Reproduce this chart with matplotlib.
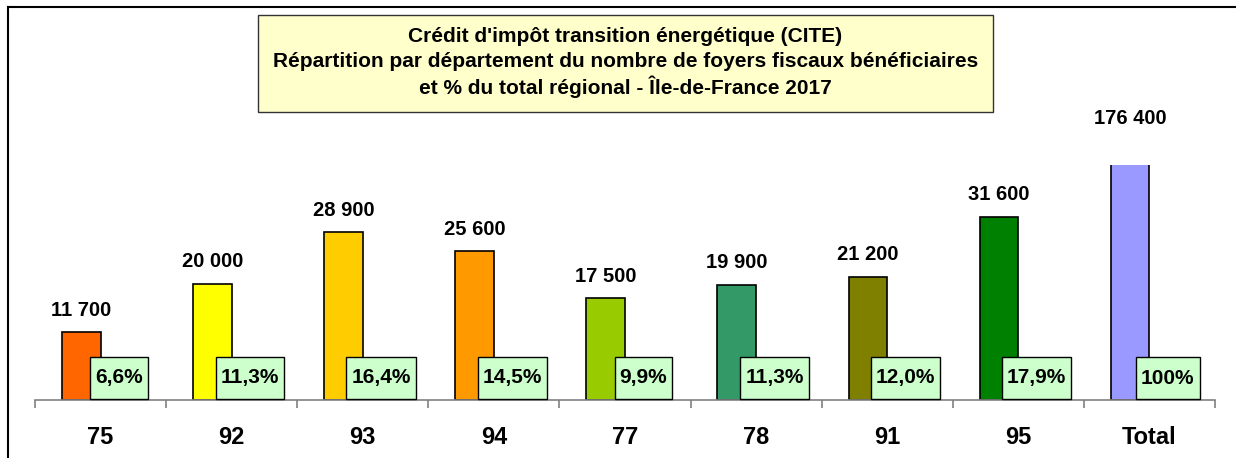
import matplotlib
matplotlib.use("Agg")
import matplotlib.pyplot as plt
from matplotlib.patches import Rectangle
from matplotlib.lines import Line2D

plt.rcParams['font.family'] = ['Liberation Sans', 'DejaVu Sans']

categories = ["75", "92", "93", "94", "77", "78", "91", "95", "Total"]
values = [11700, 20000, 28900, 25600, 17500, 19900, 21200, 31600, 176400]
value_labels = ["11 700", "20 000", "28 900", "25 600", "17 500", "19 900", "21 200", "31 600", "176 400"]
pct_labels = ["6,6%", "11,3%", "16,4%", "14,5%", "9,9%", "11,3%", "12,0%", "17,9%", "100%"]
colors = ["#FF6600", "#FFFF00", "#FFCC00", "#FF9900", "#99CC00", "#339966", "#808000", "#008000", "#9999FF"]
title_lines = ["Crédit d'impôt transition énergétique (CITE)",
               "Répartition par département du nombre de foyers fiscaux bénéficiaires",
               "et % du total régional - Île-de-France 2017"]

W, H = 1236, 458
fig = plt.figure(figsize=(W / 100, H / 100), dpi=100)
fig.patch.set_facecolor("white")

ax_left, ax_right, ax_top, ax_bottom = 35, 1215, 165, 400
ax = fig.add_axes([ax_left / W, 1 - ax_bottom / H, (ax_right - ax_left) / W, (ax_bottom - ax_top) / H])
ax.set_facecolor("none")
ymax = 40500
ax.set_xlim(-0.5, len(categories) - 0.5)
ax.set_ylim(0, ymax)

bar_w = 0.295
xs = list(range(len(categories)))
ax.bar([x - bar_w for x in xs], values, width=bar_w, align="edge", color=colors,
       edgecolor="black", linewidth=1.2, zorder=2)

for s in ["left", "right", "top"]:
    ax.spines[s].set_visible(False)
ax.spines["bottom"].set_color("#808080")
ax.spines["bottom"].set_linewidth(1.2)
ax.set_yticks([])
ax.set_xticks([x - 0.5 for x in xs] + [len(categories) - 0.5])
ax.set_xticklabels([])
ax.tick_params(axis="x", direction="out", length=6, width=1.2, color="#808080")

# value labels
for x, v, lab in zip(xs, values, value_labels):
    cx = x - bar_w / 2
    if v <= ymax:
        ax.annotate(lab, xy=(cx, v), xytext=(0, 22), textcoords="offset pixels",
                    ha="center", va="center", fontsize=14.5, fontweight="bold", annotation_clip=False)
    else:
        ax.annotate(lab, xy=(cx, ymax), xytext=(0, 47), textcoords="offset pixels",
                    ha="center", va="center", fontsize=14.5, fontweight="bold", annotation_clip=False)

# category labels
for x, c in zip(xs, categories):
    ax.annotate(c, xy=(x, 0), xytext=(0, -38), textcoords="offset pixels",
                ha="center", va="center", fontsize=17, fontweight="bold", annotation_clip=False)

# percentage labels
pct_texts = []
for x, p in zip(xs, pct_labels):
    t = ax.annotate(p, xy=(x + 0.14, 0), xytext=(0, 22), textcoords="offset pixels",
                    ha="center", va="center", fontsize=15, fontweight="bold",
                    annotation_clip=False, zorder=5)
    pct_texts.append(t)

fig.canvas.draw()
r = fig.canvas.get_renderer()
inv = ax.transAxes.inverted()
base = ax.transData.transform((0, 0))[1]
for t in pct_texts:
    bb = t.get_window_extent(r)
    x0, x1 = bb.x0 - 5, bb.x1 + 5
    y0, y1 = base + 1, base + 43
    (ax0, ay0) = inv.transform((x0, y0))
    (ax1, ay1) = inv.transform((x1, y1))
    ax.add_patch(Rectangle((ax0, ay0), ax1 - ax0, ay1 - ay0, transform=ax.transAxes,
                           facecolor="#CCFFCC", edgecolor="black", linewidth=1.0,
                           clip_on=False, zorder=4))

# title box
tb_l, tb_r, tb_t, tb_b = 258, 993, 15, 112
fig.patches.append(Rectangle((tb_l / W, 1 - tb_b / H), (tb_r - tb_l) / W, (tb_b - tb_t) / H,
                             transform=fig.transFigure, facecolor="#FFFFCC",
                             edgecolor="#333333", linewidth=1.0))
for i, line in enumerate(title_lines):
    fig.text((tb_l + tb_r) / 2 / W, 1 - (36 + 25.5 * i) / H, line, ha="center", va="center",
             fontsize=15, fontweight="bold")

# outer frame (top and left)
fig.add_artist(Line2D([8 / W, 1], [1 - 7 / H, 1 - 7 / H], transform=fig.transFigure,
                      color="black", linewidth=1.5))
fig.add_artist(Line2D([8 / W, 8 / W], [0, 1 - 7 / H], transform=fig.transFigure,
                      color="black", linewidth=1.5))

fig.savefig("out.png", dpi=100)
